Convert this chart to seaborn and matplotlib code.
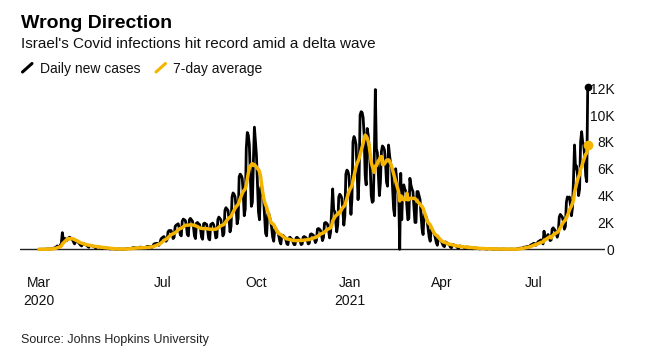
import pandas as pd
import numpy as np
import matplotlib
matplotlib.use('Agg')
import matplotlib.pyplot as plt
import seaborn as sns
from matplotlib.lines import Line2D

# daily new cases in Israel, one row per week (Sun..Sat), from 2020-03-01
daily_cases = [
    1, 2, 3, 3, 5, 6, 4,
    10, 25, 20, 30, 25, 40, 50,
    70, 100, 130, 180, 250, 200, 170,
    300, 450, 1240, 700, 750, 800, 650,
    700, 850, 900, 850, 800, 700, 550,
    400, 600, 650, 550, 500, 400, 300,
    250, 400, 420, 380, 350, 280, 200,
    150, 280, 300, 260, 240, 200, 150,
    100, 180, 200, 170, 150, 120, 90,
    60, 110, 120, 100, 90, 70, 50,
    20, 40, 45, 35, 30, 25, 15,
    10, 20, 25, 20, 18, 15, 10,
    15, 30, 35, 40, 60, 70, 50,
    60, 110, 130, 120, 110, 100, 70,
    80, 150, 160, 150, 140, 120, 90,
    100, 200, 220, 210, 200, 180, 130,
    200, 380, 420, 430, 450, 400, 300,
    450, 750, 850, 900, 950, 800, 600,
    700, 1300, 1400, 1350, 1400, 1150, 800,
    900, 1700, 1800, 1850, 1900, 1600, 1100,
    1000, 2100, 2250, 2200, 2150, 1800, 1100,
    1000, 2200, 2300, 2200, 2100, 1700, 1000,
    800, 1950, 2000, 1900, 1850, 1500, 900,
    750, 1900, 1950, 1900, 1850, 1400, 800,
    700, 1850, 1900, 1950, 1800, 1450, 850,
    900, 2200, 2400, 2300, 2200, 1700, 1000,
    1200, 2900, 3100, 3000, 2900, 2300, 1300,
    1700, 3900, 4200, 4100, 3900, 3100, 1900,
    2300, 5400, 5600, 5500, 5300, 4200, 2500,
    3000, 7500, 8700, 8500, 7800, 5500, 3200,
    3500, 6500, 9100, 8000, 7000, 4800, 2800,
    2200, 4500, 4800, 4200, 3800, 2500, 1200,
    1000, 2600, 2700, 2400, 2100, 1600, 900,
    600, 1500, 1550, 1400, 1300, 1000, 600,
    400, 1000, 1050, 950, 900, 700, 400,
    350, 850, 900, 800, 750, 550, 350,
    350, 850, 900, 800, 750, 600, 350,
    400, 900, 950, 900, 850, 650, 400,
    450, 1100, 1150, 1100, 1050, 800, 500,
    650, 1500, 1550, 1500, 1400, 1100, 650,
    900, 1950, 2000, 1950, 1850, 1400, 850,
    1300, 2900, 4500, 2950, 2800, 2100, 1300,
    1800, 3900, 4100, 4000, 3800, 2900, 1800,
    2500, 5600, 5900, 5800, 5500, 4200, 2600,
    3800, 8000, 8400, 8200, 7800, 6000, 3700,
    5300, 10000, 10250, 10200, 9800, 8500, 5500,
    4800, 9000, 8500, 7500, 6000, 4000, 3500,
    3600, 7000, 11900, 7500, 7200, 5500, 4000,
    5000, 7300, 7700, 7600, 7400, 6500, 5000,
    4700, 7770, 7000, 6400, 6030, 4500, 3000,
    2500, 6000, 5200, 4500, 4000, 0, 5660,
    2200, 4600, 4800, 4500, 4300, 3200, 2200,
    2300, 5290, 4800, 4500, 4300, 3200, 2000,
    2000, 4300, 4300, 4000, 3700, 2500, 1500,
    1100, 2700, 2600, 2400, 2100, 1500, 900,
    600, 1500, 1450, 1300, 1150, 850, 500,
    300, 800, 750, 700, 600, 400, 250,
    200, 550, 500, 450, 400, 300, 150,
    120, 350, 330, 300, 280, 200, 110,
    90, 250, 230, 220, 200, 150, 80,
    60, 170, 160, 150, 130, 100, 50,
    40, 110, 100, 90, 80, 60, 35,
    25, 70, 60, 55, 50, 40, 20,
    20, 50, 45, 40, 40, 30, 15,
    10, 30, 25, 25, 20, 15, 8,
    8, 20, 18, 15, 15, 10, 5,
    5, 15, 12, 10, 10, 8, 4,
    8, 20, 40, 60, 80, 90, 70,
    100, 150, 160, 170, 200, 220, 150,
    250, 330, 350, 400, 450, 420, 300,
    400, 550, 600, 650, 700, 550, 400,
    1350, 700, 900, 1000, 1100, 900, 650,
    700, 1500, 1600, 1500, 1400, 1200, 900,
    1200, 2400, 2600, 2500, 2400, 2100, 1500,
    1700, 3500, 3900, 3800, 3900, 3300, 2500,
    3100, 5200, 7770, 6000, 6200, 5500, 4000,
    4500, 8000, 8760, 8000, 7800, 7000, 5500,
    5040, 12100,
]
start_date = '2020-03-01'

tick_dates = ['2020-03-01', '2020-07-01', '2020-10-01', '2021-01-01', '2021-04-01', '2021-07-01']
tick_labels = ['Mar\n2020', 'Jul', 'Oct', 'Jan\n2021', 'Apr', 'Jul']
y_ticks = [0, 2000, 4000, 6000, 8000, 10000, 12000]
y_labels = ['0', '2K', '4K', '6K', '8K', '10K', '12K']

BLACK = '#000000'
YELLOW = '#F5B400'

df = pd.DataFrame({'date': pd.date_range(start_date, periods=len(daily_cases), freq='D'),
                   'cases': daily_cases})
df['avg'] = df['cases'].rolling(7, min_periods=1).mean()

sns.set_style('white')
plt.rcParams['font.family'] = ['Liberation Sans', 'DejaVu Sans']

W, H = 648, 354
fig = plt.figure(figsize=(W / 100, H / 100), dpi=100)

def fx(px):
    return px / W

def fy(py):
    return 1 - py / H

# axes placed in pixel terms: bottom at 262 so ticks hang below the zero line
ax = fig.add_axes([fx(20), fy(262), fx(605) - fx(20), fy(81) - fy(262)])

sns.lineplot(data=df, x='date', y='cases', ax=ax, color=BLACK, linewidth=2.0, zorder=3)
sns.lineplot(data=df, x='date', y='avg', ax=ax, color=YELLOW, linewidth=2.5, zorder=4)
last = df.iloc[-1]
ax.plot([last['date']], [last['cases']], 'o', color=BLACK, markersize=4.5, zorder=5, clip_on=False)
ax.plot([last['date']], [last['avg']], 'o', color=YELLOW, markersize=6, zorder=6, clip_on=False)

ax.axhline(0, color='#222222', linewidth=1.0, zorder=2)

ax.set_xlim(pd.Timestamp('2020-02-11 08:00'), pd.Timestamp('2021-09-09'))
ax.set_ylim(-946, 12538)

for s in ax.spines.values():
    s.set_visible(False)

ax.set_xticks(pd.to_datetime(tick_dates))
ax.set_xticklabels(tick_labels, fontsize=10, color='#111111')
ax.tick_params(axis='x', direction='out', length=4, width=0.8, color='#777777', pad=6)
for lab in ax.get_xticklabels():
    lab.set_linespacing(1.35)

ax.yaxis.tick_right()
ax.set_yticks(y_ticks)
ax.set_yticklabels(y_labels, fontsize=10, color='#111111')
ax.tick_params(axis='y', length=0, pad=7)
for lab in ax.get_yticklabels():
    lab.set_horizontalalignment('right')

ax.set_xlabel('')
ax.set_ylabel('')
ax.grid(False)

# titles
fig.text(fx(21), fy(28.3), 'Wrong Direction', fontsize=14, fontweight='bold', va='baseline', color='#000000')
fig.text(fx(21), fy(48.3), "Israel's Covid infections hit record amid a delta wave", fontsize=11,
         va='baseline', color='#111111')

# legend with slash markers
fig.add_artist(Line2D([fx(22.5), fx(32)], [fy(72), fy(63.5)], color=BLACK, linewidth=2.2,
                      transform=fig.transFigure))
fig.text(fx(40), fy(73.3), 'Daily new cases', fontsize=10, va='baseline', color='#111111')
fig.add_artist(Line2D([fx(156), fx(165.5)], [fy(72), fy(63.5)], color=YELLOW, linewidth=2.2,
                      transform=fig.transFigure))
fig.text(fx(172.7), fy(73.3), '7-day average', fontsize=10, va='baseline', color='#111111')

fig.text(fx(21), fy(343), 'Source: Johns Hopkins University', fontsize=9, va='baseline', color='#222222')

fig.savefig('out.png', dpi=100)
